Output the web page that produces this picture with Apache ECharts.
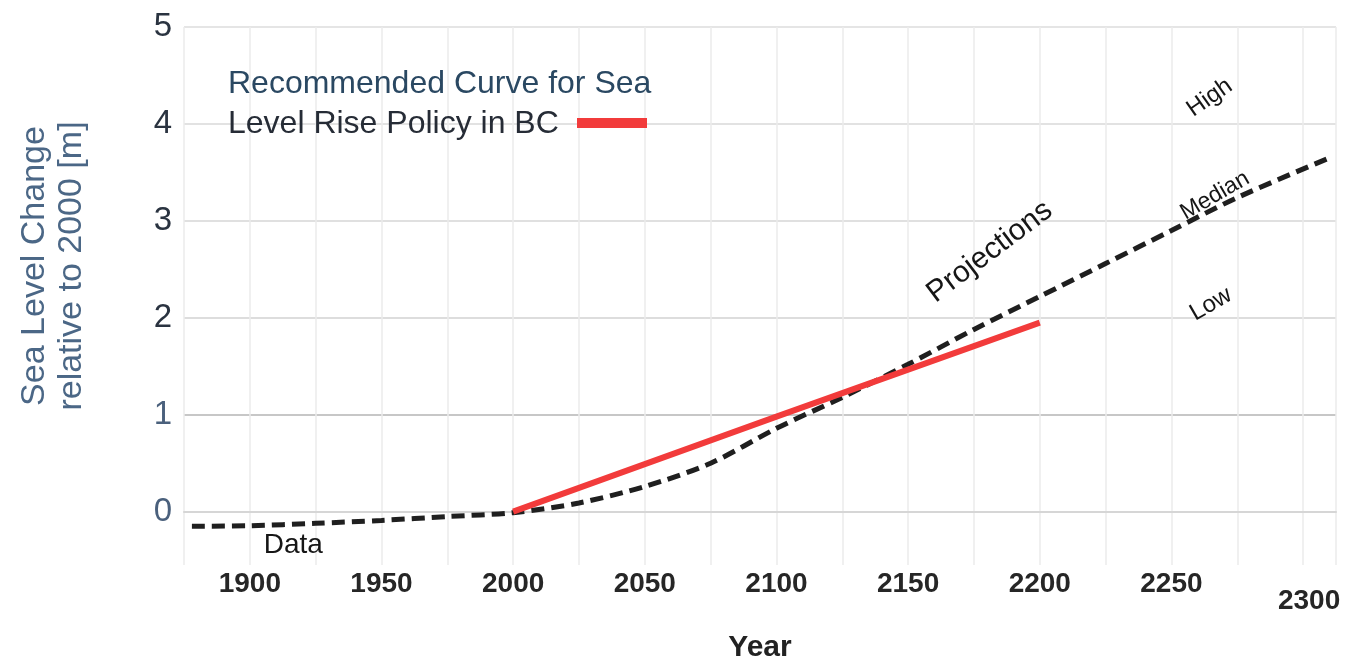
<!DOCTYPE html>
<html>
<head>
<meta charset="utf-8">
<script src="https://cdn.jsdelivr.net/npm/echarts@6/dist/echarts.min.js"></script>
<style>html,body{margin:0;padding:0;background:#fff}#c{width:1372px;height:664px}</style>
</head>
<body>
<div id="c"></div>
<script>
// Data
const dataYears = [1878, 1900, 1925, 1950, 1975, 2000, 2025, 2050, 2075, 2100, 2125, 2150, 2175, 2200, 2225, 2250, 2275, 2310];
const dataValues = [-0.15, -0.145, -0.12, -0.09, -0.05, -0.01, 0.09, 0.26, 0.5, 0.86, 1.18, 1.52, 1.88, 2.22, 2.56, 2.9, 3.24, 3.65];
const policyYears = [2000, 2100, 2200];
const policyValues = [0, 0.98, 1.95];
const xTickLabels = [1900, 1950, 2000, 2050, 2100, 2150, 2200, 2250, 2300];
const yTickLabels = [0, 1, 2, 3, 4, 5];
const legendLines = ['Recommended Curve for Sea', 'Level Rise Policy in BC'];
const yTitleLines = ['Sea Level Change', 'relative to 2000 [m]'];
const xTitle = 'Year';
const annotations = [
  {text: 'Data', x: 1916.5, y: -0.35, rot: 0, size: 28},
  {text: 'Projections', x: 2181, y: 2.68, rot: 37, size: 30},
  {text: 'High', x: 2264.5, y: 4.27, rot: 35, size: 24},
  {text: 'Median', x: 2266.5, y: 3.26, rot: 30, size: 23},
  {text: 'Low', x: 2265, y: 2.14, rot: 30, size: 24}
];

const chart = echarts.init(document.getElementById('c'));
const FONT = '"Liberation Sans", Arial, sans-serif';

const toPairs = (xs, ys) => xs.map((x, i) => [x, ys[i]]);

chart.setOption({
  animation: false,
  backgroundColor: '#ffffff',
  grid: {left: 184, right: 36, top: 27, bottom: 99, containLabel: false},
  xAxis: {
    type: 'value', min: 1875, max: 2312.5, interval: 25,
    axisLine: {show: true, lineStyle: {color: '#d6d6d6', width: 2}},
    axisTick: {show: false},
    splitLine: {show: true, lineStyle: {color: '#ebebeb', width: 1.5}},
    axisLabel: {
      margin: 5, fontFamily: FONT, fontSize: 28, fontWeight: 'bold', color: '#262626',
      showMinLabel: true, showMaxLabel: true,
      formatter: v => xTickLabels.includes(v) ? (v === 2300 ? '{low|' + v + '}' : String(v)) : '',
      rich: {low: {fontFamily: FONT, fontSize: 28, fontWeight: 'bold', color: '#262626', padding: [17, 0, 0, 12]}}
    }
  },
  yAxis: {
    type: 'value', min: -0.55, max: 5,
    axisLine: {show: false},
    axisTick: {show: false, customValues: yTickLabels},
    splitLine: {show: true, lineStyle: {color: ['#e2e2e2', '#b4b4b4', '#d2d2d2', '#d6d6d6', '#d8d8d8', '#dcdcdc'], width: 1.6}},
    axisLabel: {
      customValues: yTickLabels,
      margin: 12, fontFamily: FONT, fontSize: 33,
      color: (v) => (Number(v) <= 1 ? '#4a607c' : '#2a3340'),
      formatter: v => String(v)
    }
  },
  series: [
    {
      name: 'Data', type: 'line', data: toPairs(dataYears, dataValues),
      smooth: 0.3, symbol: 'none',
      lineStyle: {color: '#1f1f1f', width: 5, type: [13, 7]},
      z: 3
    },
    {
      name: 'Policy', type: 'line', data: toPairs(policyYears, policyValues),
      symbol: 'none',
      lineStyle: {color: '#f23b3b', width: 6},
      z: 4
    }
  ]
});

function place() {
  const g = [];
  annotations.forEach(a => {
    const p = chart.convertToPixel({gridIndex: 0}, [a.x, a.y]);
    g.push({
      type: 'text', x: p[0], y: p[1], rotation: a.rot * Math.PI / 180,
      style: {text: a.text, font: a.size + 'px ' + FONT, fill: '#161616', align: 'center', verticalAlign: 'middle'},
      z: 10
    });
  });
  // legend text block
  g.push({type: 'text', x: 228, y: 84, style: {text: legendLines[0], font: '32px ' + FONT, fill: '#2a4862', verticalAlign: 'middle'}, z: 10});
  g.push({type: 'text', x: 228, y: 124, style: {text: legendLines[1], font: '32px ' + FONT, fill: '#262c36', verticalAlign: 'middle'}, z: 10});
  g.push({type: 'rect', shape: {x: 577, y: 118, width: 70, height: 10}, style: {fill: '#f23b3b'}, z: 10});
  // y axis title (two rotated lines)
  g.push({type: 'text', x: 35, y: 266, rotation: Math.PI / 2, style: {text: yTitleLines[0], font: '34px ' + FONT, fill: '#4b6786', align: 'center', verticalAlign: 'middle'}, z: 10});
  g.push({type: 'text', x: 72, y: 266, rotation: Math.PI / 2, style: {text: yTitleLines[1], font: '34px ' + FONT, fill: '#4b6786', align: 'center', verticalAlign: 'middle'}, z: 10});
  // x axis title
  g.push({type: 'text', x: 760, y: 648, style: {text: xTitle, font: 'bold 30px ' + FONT, fill: '#222', align: 'center', verticalAlign: 'middle'}, z: 10});
  chart.setOption({graphic: g});
}
place();
</script>
</body>
</html>
